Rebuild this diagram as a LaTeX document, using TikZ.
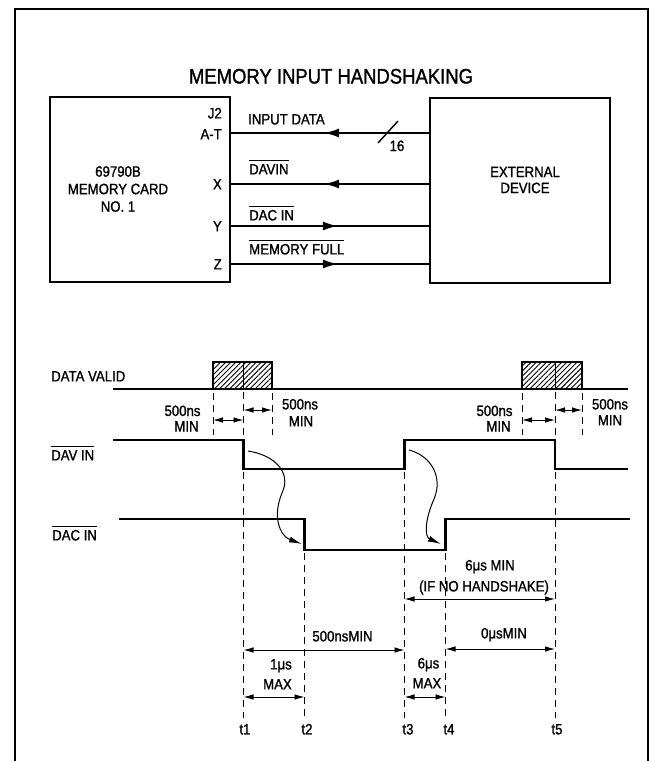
\documentclass[tikz,border=0pt]{standalone}
\usepackage{fontspec}
\setmainfont{Liberation Sans}[FakeStretch=0.88,FakeBold=1.2]
\usetikzlibrary{arrows.meta,decorations.markings,patterns.meta}
\newcommand\ovl[1]{\setbox0\hbox{#1}\rlap{\rule[13pt]{\wd0}{1.1pt}}\box0}
\tikzset{
  frameline/.style={line width=2pt},
  blk/.style={draw, line width=2.4pt, minimum width=180pt, minimum height=185pt, inner sep=0pt},
  conn/.style={line width=1.8pt},
  midarrow/.style={postaction={decorate}, decoration={markings, mark=at position #1 with {\arrow{Latex[length=15pt,width=9pt]}}}},
  sig/.style={line width=2.4pt, line join=miter},
  hatch/.style={sig, pattern={Lines[angle=45,distance=3.6pt,line width=0.9pt]}},
  guide/.style={line width=0.9pt, dash pattern=on 7pt off 5pt},
  dim/.style={line width=0.9pt, {Latex[length=10pt,width=5.5pt]}-{Latex[length=10pt,width=5.5pt]}},
  curv/.style={line width=1pt, -{Latex[length=13pt,width=6pt]}},
  lbl/.style={font=\fontsize{15}{17.5}\selectfont, inner sep=0pt},
  ttl/.style={font=\fontsize{21}{24}\selectfont, inner sep=0pt}
}
\begin{document}
\begin{tikzpicture}[x=1pt,y=-1pt]
\useasboundingbox (0,0) rectangle (655,761);
\fill[white] (0,0) rectangle (655,761);
% frame
\draw[frameline] (15,761) -- (15,9) -- (648,9) -- (648,761);
\node[ttl, anchor=base] (title) at (331,83.5) {MEMORY INPUT HANDSHAKING};
% blocks
\node[blk] (card) at (140,189.5) {};
\node[blk] (ext) at (520,190.5) {};
\node[lbl, align=center] (cardtxt) at (118,189) {69790B\\MEMORY CARD\\NO. 1};
\node[lbl, align=center, font=\fontsize{15}{16}\selectfont] (exttxt) at (525,180) {EXTERNAL\\DEVICE};
% pins
\node[lbl, anchor=base east] (pJ) at (222,118.4) {J2};
\node[lbl, anchor=base east] (pAT) at (222,139.4) {A-T};
\node[lbl, anchor=base east] (pX) at (222,189.4) {X};
\node[lbl, anchor=base east] (pY) at (222,231.4) {Y};
\node[lbl, anchor=base east] (pZ) at (222,269.4) {Z};
% connectors
\coordinate (yA) at (0,133);
\coordinate (yX) at (0,184);
\coordinate (yY) at (0,226);
\coordinate (yZ) at (0,264);
\draw[conn, midarrow=0.53] (ext.west |- yA) -- (card.east |- yA);
\draw[conn, midarrow=0.53] (ext.west |- yX) -- (card.east |- yX);
\draw[conn, midarrow=0.54] (card.east |- yY) -- (ext.west |- yY);
\draw[conn, midarrow=0.54] (card.east |- yZ) -- (ext.west |- yZ);
\draw[line width=1.4pt] (378,143) -- (398,121);
\node[lbl, anchor=base] (bus) at (397,151) {16};
\node[lbl, anchor=base west] (lIn) at (248,124.4) {INPUT DATA};
\node[lbl, anchor=base west] (lDav) at (249,174.4) {\ovl{DAVIN}};
\node[lbl, anchor=base west] (lDac) at (249,220.4) {\ovl{DAC IN}};
\node[lbl, anchor=base west] (lMem) at (249,254.4) {\ovl{MEMORY FULL}};
% timing labels
\node[lbl, anchor=base west] (sDV) at (51,381.4) {DATA VALID};
\node[lbl, anchor=base west] (sDAV) at (51,460.4) {\ovl{DAV IN}};
\node[lbl, anchor=base west] (sDAC) at (52,540.4) {\ovl{DAC IN}};
% data valid
\draw[sig] (113,389) -- (213,389);
\draw[hatch] (213,389) rectangle (272,362);
\draw[line width=1pt] (243.5,362) -- (243.5,389);
\draw[sig] (272,389) -- (522,389);
\draw[hatch] (522,389) rectangle (582,362);
\draw[line width=1pt] (555,362) -- (555,389);
\draw[sig] (582,389) -- (628,389);
% DAV IN
\draw[sig] (113,440) -- (243.5,440) -- (243.5,469) -- (404.5,469) -- (404.5,440) -- (555,440) -- (555,469) -- (628,469);
% DAC IN
\draw[sig] (119,519) -- (304.5,519) -- (304.5,550) -- (445.5,550) -- (445.5,519) -- (630,519);
% guides
\draw[guide] (213,393) -- (213,435);
\draw[guide] (272,393) -- (272,435);
\draw[guide] (522,393) -- (522,435);
\draw[guide] (582,393) -- (582,435);
\draw[guide] (243.5,392) -- (243.5,440);
\draw[guide] (243.5,472) -- (243.5,718);
\draw[guide] (304.5,553) -- (304.5,718);
\draw[guide] (404.5,472) -- (404.5,718);
\draw[guide] (445.5,553) -- (445.5,718);
\draw[guide] (555,392) -- (555,440);
\draw[guide] (555,472) -- (555,718);
% 500ns dims
\draw[dim] (213,420) -- (243.5,420);
\draw[dim] (243.5,410) -- (272,410);
\draw[dim] (522,420) -- (555,420);
\draw[dim] (555,410) -- (582,410);
\node[lbl, anchor=base] (n1a) at (182.5,416) {500ns};
\node[lbl, anchor=base] (n1b) at (186.5,431.5) {MIN};
\node[lbl, anchor=base] (n2a) at (300,409.4) {500ns};
\node[lbl, anchor=base] (n2b) at (301,426.4) {MIN};
\node[lbl, anchor=base] (n3a) at (494.5,416) {500ns};
\node[lbl, anchor=base] (n3b) at (498.5,431.5) {MIN};
\node[lbl, anchor=base] (n4a) at (610,409.4) {500ns};
\node[lbl, anchor=base] (n4b) at (610,425.4) {MIN};
% curved arrows
\draw[curv] (248,451) .. controls (274,455) and (292,472) .. (282,493) .. controls (272,517) and (280,536) .. (302,544);
\draw[curv] (409,450) .. controls (432,456) and (443,478) .. (434,499) .. controls (424,522) and (425,537) .. (441,544);
% lower dims
\draw[dim] (404.5,599) -- (555,599);
\node[lbl, anchor=base] (m6a) at (490,570.4) {6μs MIN};
\node[lbl, anchor=base] (m6b) at (484,591.4) {(IF NO HANDSHAKE)};
\draw[dim] (243.5,650) -- (404.5,650);
\node[lbl, anchor=base] (m5) at (342.5,641.4) {500nsMIN};
\draw[dim] (445.5,649) -- (555,649);
\node[lbl, anchor=base] (m0) at (504,638.4) {0μsMIN};
\draw[dim] (243.5,697) -- (304.5,697);
\node[lbl, anchor=base] (m1a) at (281,669.4) {1μs};
\node[lbl, anchor=base] (m1b) at (277.5,689.4) {MAX};
\draw[dim] (404.5,697) -- (445.5,697);
\node[lbl, anchor=base] (m6c) at (428.5,668.4) {6μs};
\node[lbl, anchor=base] (m6d) at (427,688.4) {MAX};
% t labels
\node[lbl, anchor=base] (t1) at (245,734.4) {t1};
\node[lbl, anchor=base] (t2) at (307,734.4) {t2};
\node[lbl, anchor=base] (t3) at (408,734.4) {t3};
\node[lbl, anchor=base] (t4) at (449,734.4) {t4};
\node[lbl, anchor=base] (t5) at (557,734.4) {t5};
\end{tikzpicture}
\end{document}
